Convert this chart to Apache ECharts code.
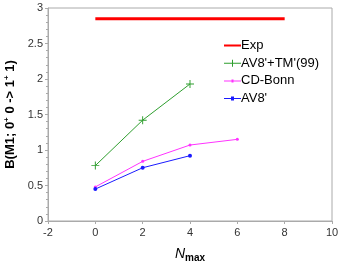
<!DOCTYPE html>
<html><head><meta charset="utf-8">
<script src="https://cdn.jsdelivr.net/npm/echarts@6/dist/echarts.min.js"></script>
<style>html,body{margin:0;padding:0;background:#fff}#c{width:346px;height:263px}</style>
</head><body><div id="c"></div>
<script>
const expX = [0, 8];
const expY = [2.85, 2.85];
const tmX = [0, 2, 4];
const tmY = [0.78, 1.42, 1.93];
const cdX = [0, 2, 4, 6];
const cdY = [0.48, 0.84, 1.07, 1.15];
const avX = [0, 2, 4];
const avY = [0.45, 0.75, 0.92];
const xTicks = [-2, 0, 2, 4, 6, 8, 10];
const yTicks = [0, 0.5, 1, 1.5, 2, 2.5, 3];

const pair = (xs, ys) => xs.map((x, i) => [x, ys[i]]);
const F = '"Liberation Sans", Arial, sans-serif';
const cross = 'path://M4.4,0h1.2v10h-1.2zM0,4.4h10v1.2h-10z';
const box = 'M0,0h.1v.1h-.1zM16.9,7.9h.1v.1h-.1z';
const icons = {
  exp: 'path://' + box + 'M0,3h17v2h-17z',
  tm: 'path://' + box + 'M0,3.5h17v1h-17zM8,0.5h1v7h-1z',
  cd: 'path://' + box + 'M0,3.5h17v1h-17zM7.5,2.5h2v3h-2z',
  av: 'path://' + box + 'M0,3.5h17v1h-17zM7,2h3v4h-3z'
};
const chart = echarts.init(document.getElementById('c'), null, {renderer: 'canvas'});
chart.setOption({
  animation: false,
  grid: {left: 48, right: 14, top: 8, bottom: 42, show: true, borderColor: '#aaa', borderWidth: 1,
         containLabel: false, outerBoundsMode: 'none'},
  legend: {
    show: true, orient: 'vertical', left: 224, top: 39, padding: 0, itemWidth: 17, itemHeight: 8, itemGap: 4.7,
    textStyle: {fontFamily: F, fontSize: 13, color: '#000', padding: [0,0,0,-5]},
    data: [
      {name: 'Exp', icon: icons.exp},
      {name: "AV8'+TM'(99)", icon: icons.tm},
      {name: 'CD-Bonn', icon: icons.cd},
      {name: "AV8'", icon: icons.av}
    ]
  },
  xAxis: {
    type: 'value', min: xTicks[0], max: xTicks[xTicks.length-1], interval: 2,
    axisLine: {onZero: false, lineStyle: {color: '#aaa'}},
    axisTick: {show: true, length: 3, lineStyle: {color: '#aaa'}},
    splitLine: {show: false},
    axisLabel: {fontFamily: F, fontSize: 11, color: '#333', margin: 6},
    name: '{n|N}{s|max}', nameLocation: 'middle', nameGap: 24,
    nameTextStyle: {rich: {
      n: {fontFamily: F, fontSize: 14, fontStyle: 'italic', color: '#000'},
      s: {fontFamily: F, fontSize: 10, fontWeight: 'bold', color: '#000', padding: [8,0,0,0]}
    }}
  },
  yAxis: {
    type: 'value', min: yTicks[0], max: yTicks[yTicks.length-1], interval: 0.5,
    axisLine: {show: true, onZero: false, lineStyle: {color: '#aaa'}},
    axisTick: {show: true, length: 3, lineStyle: {color: '#aaa'}},
    minorTick: {show: true, splitNumber: 5, length: 2, lineStyle: {color: '#aaa'}},
    splitLine: {show: false},
    axisLabel: {fontFamily: F, fontSize: 11, color: '#333', margin: 5},
    name: '{b|B(M1; 0}{s|+}{b| 0 -> 1}{s|+}{b| 1)}', nameLocation: 'middle', nameGap: 15, nameRotate: 90,
    nameTextStyle: {rich: {
      b: {fontFamily: F, fontSize: 13, fontWeight: 'bold', color: '#000'},
      s: {fontFamily: F, fontSize: 8, fontWeight: 'bold', color: '#000', padding: [0,0,7,0]}
    }}
  },
  series: [
    {name: 'Exp', type: 'line', data: pair(expX, expY), showSymbol: false, symbol: 'none',
     lineStyle: {color: 'red', width: 3}, itemStyle: {color: 'red'}},
    {name: "AV8'+TM'(99)", type: 'line', data: pair(tmX, tmY), symbol: cross, symbolSize: 8,
     lineStyle: {color: '#2e9e2e', width: 1}, itemStyle: {color: '#2e9e2e'}},
    {name: 'CD-Bonn', type: 'line', data: pair(cdX, cdY), symbol: 'circle', symbolSize: 3,
     lineStyle: {color: '#ff33ff', width: 1}, itemStyle: {color: '#ff33ff'}},
    {name: "AV8'", type: 'line', data: pair(avX, avY), symbol: 'circle', symbolSize: 4,
     lineStyle: {color: '#1a1aff', width: 1}, itemStyle: {color: '#1a1aff'}}
  ]
});
</script></body></html>
